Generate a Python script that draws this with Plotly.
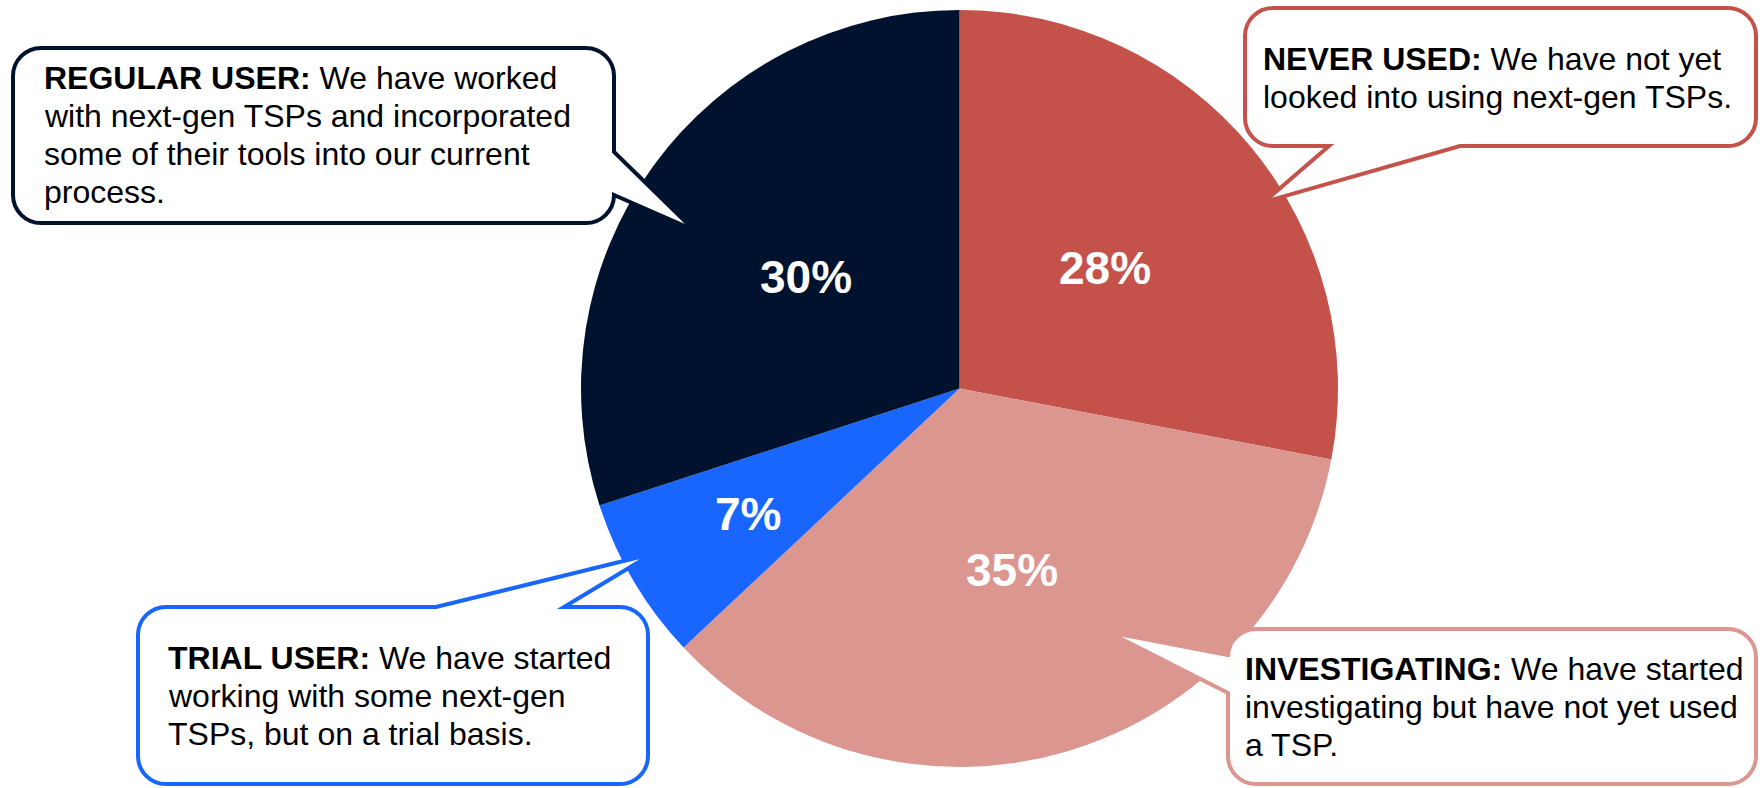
import math
import plotly.graph_objects as go

# ---- data -------------------------------------------------------------
categories = ["NEVER USED", "INVESTIGATING", "TRIAL USER", "REGULAR USER"]
shares = [28, 35, 7, 30]
descriptions = [
    ["We have not yet", "looked into using next-gen TSPs."],
    ["We have started", "investigating but have not yet used", "a TSP."],
    ["We have started", "working with some next-gen", "TSPs, but on a trial basis."],
    ["We have worked", "with next-gen TSPs and incorporated",
     "some of their tools into our current", "process."],
]
colors = ["#C5524A", "#DC9690", "#1966FF", "#00122D"]

# ---- layout (pixels) --------------------------------------------------
W, H = 1762, 788
PIE_CX, PIE_CY, PIE_R = 959.5, 388.5, 378.5
LABEL_RADIUS = [0.50, 0.50, 0.65, 0.50]
FONT = "Arial, 'Liberation Sans', sans-serif"
TEXT_SIZE = 32
LINE_PITCH = 38
BORDER = 4
CORNER = 28

callouts = [
    dict(box=(1243, 6, 1758, 148), side="bottom", base=(1329, 1460), tip=(1264, 202),
         text_x=1261, baseline=70),
    dict(box=(1226, 627, 1758, 786), side="left", base=(655, 693), tip=(1108, 632),
         text_x=1243, baseline=680),
    dict(box=(136, 605, 650, 786), side="top", base=(436, 564), tip=(652, 554),
         text_x=166, baseline=669),
    dict(box=(11, 46, 616, 225), side="right", base=(152, 195), tip=(694, 230),
         text_x=42, baseline=89),
]


def px(x):
    return x / W


def py(y):
    return 1 - y / H


def pt(x, y):
    return f"{px(x):.5f},{py(y):.5f}"


def bubble_path(box, side, base, tip, r=CORNER, inset=BORDER / 2):
    """Rounded rectangle with a pointer, traced clockwise on screen."""
    x0, y0, x1, y1 = box
    x0 += inset; y0 += inset; x1 -= inset; y1 -= inset
    k = 0.5523 * r
    tx, ty = tip
    p = [f"M{pt(x0 + r, y0)}"]
    if side == "top":
        p += [f"L{pt(base[0], y0)}", f"L{pt(tx, ty)}", f"L{pt(base[1], y0)}"]
    p += [f"L{pt(x1 - r, y0)}",
          f"C{pt(x1 - r + k, y0)} {pt(x1, y0 + r - k)} {pt(x1, y0 + r)}"]
    if side == "right":
        p += [f"L{pt(x1, base[0])}", f"L{pt(tx, ty)}", f"L{pt(x1, base[1])}"]
    p += [f"L{pt(x1, y1 - r)}",
          f"C{pt(x1, y1 - r + k)} {pt(x1 - r + k, y1)} {pt(x1 - r, y1)}"]
    if side == "bottom":
        p += [f"L{pt(base[1], y1)}", f"L{pt(tx, ty)}", f"L{pt(base[0], y1)}"]
    p += [f"L{pt(x0 + r, y1)}",
          f"C{pt(x0 + r - k, y1)} {pt(x0, y1 - r + k)} {pt(x0, y1 - r)}"]
    if side == "left":
        p += [f"L{pt(x0, base[1])}", f"L{pt(tx, ty)}", f"L{pt(x0, base[0])}"]
    p += [f"L{pt(x0, y0 + r)}",
          f"C{pt(x0, y0 + r - k)} {pt(x0 + r - k, y0)} {pt(x0 + r, y0)}", "Z"]
    return " ".join(p)


fig = go.Figure()

fig.add_trace(go.Pie(
    labels=categories,
    values=shares,
    sort=False,
    direction="clockwise",
    rotation=0,
    marker=dict(colors=colors, line=dict(width=0)),
    textinfo="none",
    hoverinfo="label+percent",
    showlegend=False,
    domain=dict(x=[px(PIE_CX - PIE_R), px(PIE_CX + PIE_R)],
                y=[py(PIE_CY + PIE_R), py(PIE_CY - PIE_R)]),
))

shapes = []
annotations = []

# percentage labels on the slices, placed along each slice's bisector
total = sum(shares)
cum = 0
for v, rf in zip(shares, LABEL_RADIUS):
    mid = math.radians((cum + v / 2) / total * 360)
    cum += v
    lx = PIE_CX + rf * PIE_R * math.sin(mid)
    ly = PIE_CY - rf * PIE_R * math.cos(mid)
    annotations.append(dict(
        x=px(lx), y=py(ly), xref="paper", yref="paper",
        text=f"<b>{v}%</b>", showarrow=False,
        xanchor="center", yanchor="middle",
        font=dict(family=FONT, size=46, color="white"),
    ))

# speech-bubble callouts describing each group
for cat, lines, color, c in zip(categories, descriptions, colors, callouts):
    shapes.append(dict(
        type="path", xref="paper", yref="paper", layer="above",
        path=bubble_path(c["box"], c["side"], c["base"], c["tip"]),
        fillcolor="white", line=dict(color=color, width=BORDER),
    ))
    for i, line in enumerate(lines):
        txt = f"<b>{cat}:</b> {line}" if i == 0 else line
        base_y = c["baseline"] + i * LINE_PITCH
        annotations.append(dict(
            x=px(c["text_x"]), y=py(base_y - 0.35 * TEXT_SIZE),
            xref="paper", yref="paper",
            text=txt, showarrow=False, align="left",
            xanchor="left", yanchor="middle",
            font=dict(family=FONT, size=TEXT_SIZE, color="black"),
        ))

fig.update_layout(
    width=W, height=H,
    margin=dict(l=0, r=0, t=0, b=0),
    paper_bgcolor="white",
    plot_bgcolor="white",
    shapes=shapes,
    annotations=annotations,
)

fig.write_html("out.html")
